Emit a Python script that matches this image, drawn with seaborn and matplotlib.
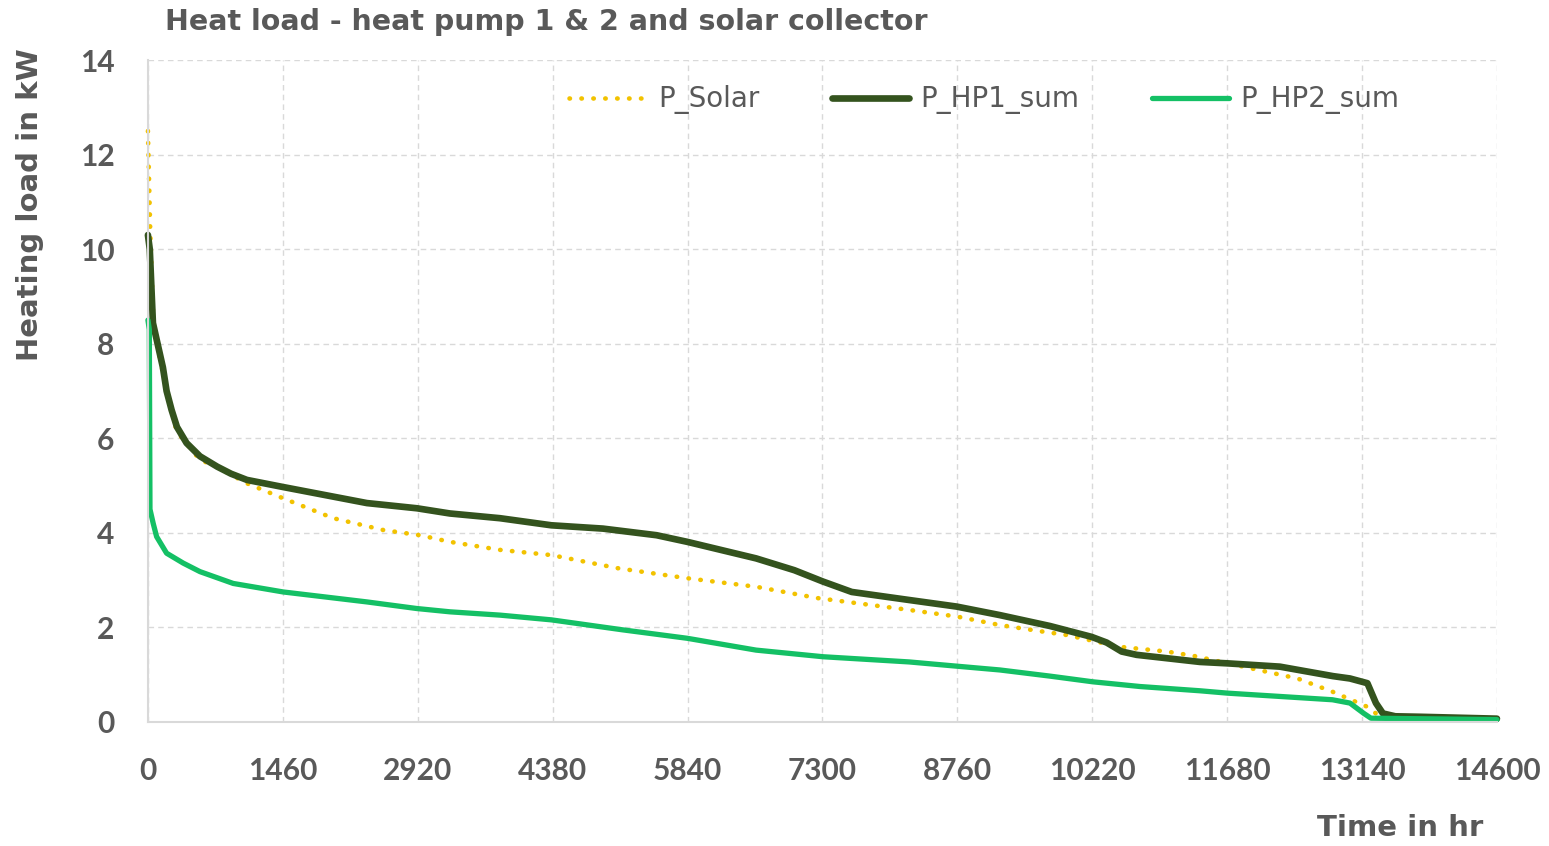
import matplotlib
matplotlib.use("Agg")
import matplotlib.pyplot as plt
import numpy as np
import pandas as pd
import seaborn as sns

# Load-duration curves (hours sorted by descending load)
hours_solar = [0, 25, 60, 160, 310, 560, 743, 1068, 1464, 2006, 2547, 2944, 3268,
               3810, 4366, 5092, 5837, 6582, 7247, 8238, 8755, 9221, 9690, 9942,
               10519, 11024, 11313, 11948, 12441, 12820, 13198, 13290, 13420, 14600]
p_solar = [12.5, 10.4, 8.4, 7.4, 6.15, 5.55, 5.40, 5.05, 4.73, 4.31, 4.06, 3.95, 3.81,
           3.64, 3.53, 3.25, 3.04, 2.86, 2.62, 2.37, 2.23, 2.05, 1.91, 1.84,
           1.59, 1.49, 1.40, 1.13, 0.92, 0.64, 0.32, 0.18, 0.06, 0.05]

hours_hp1 = [0, 20, 54, 162, 202, 256, 314, 418, 563, 750, 900, 1071, 1461, 2370,
             2911, 3268, 3810, 4366, 4924, 5505, 5837, 6582, 6996, 7306, 7617,
             8238, 8755, 9221, 9762, 10213, 10376, 10538, 10700, 11385, 11683,
             12251, 12825, 13009, 13198, 13290, 13366, 13500, 13766, 14600]
p_hp1 = [10.3, 10.0, 8.44, 7.5, 7.0, 6.6, 6.24, 5.9, 5.62, 5.4, 5.25, 5.12, 4.97, 4.63,
         4.52, 4.41, 4.31, 4.16, 4.09, 3.95, 3.81, 3.46, 3.21, 2.97, 2.75,
         2.58, 2.44, 2.26, 2.03, 1.80, 1.68, 1.49, 1.42, 1.27, 1.24,
         1.17, 0.97, 0.92, 0.82, 0.40, 0.18, 0.12, 0.11, 0.07]

hours_hp2 = [0, 15, 22, 57, 94, 202, 382, 563, 923, 1464, 2367, 2908, 3268, 3810,
             4366, 5133, 5837, 6582, 7306, 8238, 8755, 9221, 9762, 10225, 10736,
             11385, 11683, 12251, 12820, 13009, 13160, 13236, 14600]
p_hp2 = [8.5, 8.3, 4.5, 4.2, 3.92, 3.57, 3.36, 3.18, 2.93, 2.75, 2.54, 2.40, 2.33,
         2.26, 2.16, 1.95, 1.77, 1.52, 1.38, 1.27, 1.18, 1.10, 0.97, 0.85, 0.75,
         0.66, 0.61, 0.54, 0.47, 0.40, 0.18, 0.08, 0.05]

x_ticks = list(range(0, 14601, 1460))
y_ticks = list(range(0, 15, 2))

TEXT = "#595959"
GRID = "#D9D9D9"

sns.set_theme(style="white")
plt.rcParams["font.family"] = ["Lato", "DejaVu Sans"]

fig = plt.figure(figsize=(15.49, 8.46), dpi=100)
ax = fig.add_axes([0.0955, 0.1466, 0.8709, 0.7824])

sns.lineplot(x=hours_solar, y=p_solar, ax=ax, color="#F2C200", lw=3.3,
             linestyle=(0, (0.1, 2.5)), dash_capstyle="round",
             estimator=None, sort=False, label="P_Solar", clip_on=False)
sns.lineplot(x=hours_hp1, y=p_hp1, ax=ax, color="#34531E", lw=4.8,
             estimator=None, sort=False, label="P_HP1_sum", clip_on=False)
sns.lineplot(x=hours_hp2, y=p_hp2, ax=ax, color="#14C065", lw=3.8,
             estimator=None, sort=False, label="P_HP2_sum", clip_on=False)

ax.set_xlim(0, 14600)
ax.set_ylim(0, 14)
ax.set_xticks(x_ticks)
ax.set_yticks(y_ticks)
ax.set_xlabel("")
ax.set_ylabel("")

ax.grid(True, color=GRID, linestyle=(0, (4, 3)), lw=1.0)
for side in ("top", "right"):
    ax.spines[side].set_visible(False)
for side in ("left", "bottom"):
    ax.spines[side].set_color(GRID)
    ax.spines[side].set_linewidth(1.5)

ax.tick_params(axis="both", length=0, labelsize=21.5, labelcolor=TEXT)
ax.tick_params(axis="y", pad=24)
ax.tick_params(axis="x", pad=25)
for lbl in ax.get_xticklabels() + ax.get_yticklabels():
    lbl.set_fontweight("bold")

handles = ax.get_lines()[:3]
ax.legend(handles, ["P_Solar", "P_HP1_sum", "P_HP2_sum"], loc="center",
          bbox_to_anchor=(0.62, 0.94), ncol=3, frameon=False,
          prop={"family": "DejaVu Sans", "size": 20},
          handlelength=2.8, handletextpad=0.4, columnspacing=2.6,
          labelcolor=TEXT)

wide = ["DejaVu Sans"]
fig.text(165 / 1549, 1 - 22 / 846, "Heat load - heat pump 1 & 2 and solar collector",
         ha="left", va="center", fontsize=20.5, fontweight="bold", color=TEXT,
         family=wide)
fig.text(30 / 1549, 1 - 205 / 846, "Heating load in kW", rotation=90,
         ha="center", va="center", fontsize=21, fontweight="bold", color=TEXT,
         family=wide)
fig.text(1483 / 1549, 1 - 828 / 846, "Time in hr", ha="right", va="center",
         fontsize=21, fontweight="bold", color=TEXT, family=wide)

fig.savefig("out.png", dpi=100, facecolor="white")
